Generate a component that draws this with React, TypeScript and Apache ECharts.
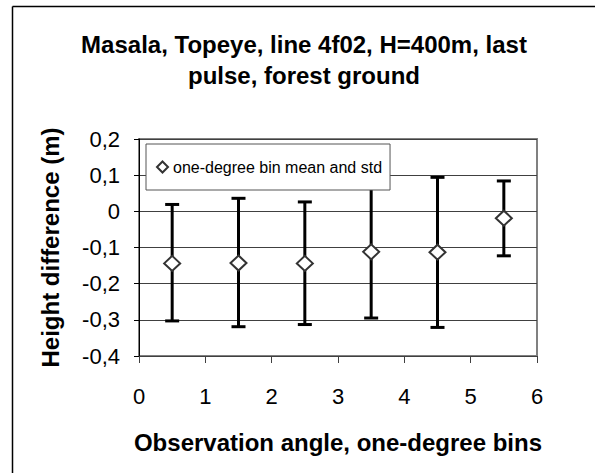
import React, { useEffect, useRef } from "react";
import * as echarts from "echarts";

const titleLines = ["Masala, Topeye, line 4f02, H=400m, last", "pulse, forest ground"];
const xAxisTitle = "Observation angle, one-degree bins";
const yAxisTitle = "Height difference (m)";
const seriesName = "one-degree bin mean and std";

const binCenters = [0.5, 1.5, 2.5, 3.5, 4.5, 5.5];
const meanValues = [-0.144, -0.143, -0.144, -0.112, -0.113, -0.019];
const upperValues = [0.019, 0.036, 0.026, 0.07, 0.094, 0.084];
const lowerValues = [-0.303, -0.319, -0.313, -0.295, -0.321, -0.123];

const xTicks = { min: 0, max: 6, interval: 1 };
const yTicks = { min: -0.4, max: 0.2, interval: 0.1 };

const FONT = "'Liberation Sans', Arial, sans-serif";

export default function App() {
  const ref = useRef<HTMLDivElement>(null);

  useEffect(() => {
    if (!ref.current) return;
    const chart = echarts.init(ref.current, null, { renderer: "svg" });

    const meanData = binCenters.map((x, i) => [x, meanValues[i]]);
    const barData = binCenters.map((x, i) => [x, lowerValues[i], upperValues[i]]);

    chart.setOption({
      animation: false,
      backgroundColor: "#fff",
      textStyle: { fontFamily: FONT },
      title: {
        text: titleLines.join("\n"),
        left: 304,
        top: 29,
        padding: 0,
        textAlign: "center",
        textStyle: {
          fontFamily: FONT,
          fontSize: 24,
          fontWeight: "bold",
          color: "#000",
          lineHeight: 31,
        },
      },
      graphic: [
        {
          type: "line",
          shape: { x1: 12.5, y1: 6.5, x2: 12.5, y2: 473 },
          style: { stroke: "#000", lineWidth: 1.5 },
          silent: true,
          z: 0,
        },
        {
          type: "line",
          shape: { x1: 12.5, y1: 6.5, x2: 595, y2: 6.5 },
          style: { stroke: "#000", lineWidth: 1.5 },
          silent: true,
          z: 0,
        },
      ],
      legend: {
        left: 146,
        top: 144,
        orient: "horizontal",
        data: [seriesName],
        backgroundColor: "#fff",
        borderColor: "#555",
        borderWidth: 1,
        padding: [15, 8, 15, 10],
        itemWidth: 11,
        itemHeight: 11,
        itemGap: 5,
        textStyle: { fontFamily: FONT, fontSize: 16, color: "#000" },
        z: 10,
      },
      grid: {
        left: 139,
        top: 139,
        right: 58,
        bottom: 117,
        show: true,
        borderColor: "#808080",
        borderWidth: 2,
        backgroundColor: "#fff",
      },
      xAxis: {
        type: "value",
        min: xTicks.min,
        max: xTicks.max,
        interval: xTicks.interval,
        name: xAxisTitle,
        nameLocation: "middle",
        nameGap: 74,
        nameTextStyle: { fontFamily: FONT, fontSize: 24, fontWeight: "bold", color: "#000" },
        axisLine: { show: true, onZero: false, lineStyle: { color: "#404040", width: 1 } },
        axisTick: { show: true, inside: false, length: 7, lineStyle: { color: "#404040", width: 1 } },
        axisLabel: { fontFamily: FONT, fontSize: 22, color: "#000", margin: 29 },
        splitLine: { show: false },
      },
      yAxis: {
        type: "value",
        min: yTicks.min,
        max: yTicks.max,
        interval: yTicks.interval,
        name: yAxisTitle,
        nameLocation: "middle",
        nameGap: 77,
        nameTextStyle: { fontFamily: FONT, fontSize: 24, fontWeight: "bold", color: "#000" },
        axisLine: { show: true, lineStyle: { color: "#000", width: 1 } },
        axisTick: { show: true, inside: false, length: 5, lineStyle: { color: "#000", width: 1 } },
        axisLabel: {
          fontFamily: FONT,
          fontSize: 22,
          color: "#000",
          margin: 19,
          formatter: (v: number) => String(Math.round(v * 10) / 10).replace(".", ","),
        },
        splitLine: { show: true, lineStyle: { color: "#404040", width: 1 } },
      },
      series: [
        {
          type: "custom",
          name: "std",
          data: barData,
          encode: { x: 0, y: [1, 2] },
          z: 2,
          renderItem: (params: any, api: any) => {
            const x = api.value(0);
            const lo = api.coord([x, api.value(1)]);
            const hi = api.coord([x, api.value(2)]);
            const half = 7;
            const style = { stroke: "#000", lineWidth: 3 };
            return {
              type: "group",
              children: [
                { type: "line", shape: { x1: lo[0], y1: lo[1], x2: hi[0], y2: hi[1] }, style },
                { type: "line", shape: { x1: hi[0] - half, y1: hi[1], x2: hi[0] + half, y2: hi[1] }, style },
                { type: "line", shape: { x1: lo[0] - half, y1: lo[1], x2: lo[0] + half, y2: lo[1] }, style },
              ],
            };
          },
        },
        {
          type: "scatter",
          name: seriesName,
          data: meanData,
          symbol: "diamond",
          symbolSize: [16, 15],
          z: 5,
          itemStyle: { color: "#fff", borderColor: "#333", borderWidth: 2, opacity: 1 },
        },
      ],
    });

    return () => chart.dispose();
  }, []);

  return (
    <div
      ref={ref}
      style={{ position: "absolute", left: 0, top: 0, width: 595, height: 473, background: "#fff" }}
    />
  );
}
